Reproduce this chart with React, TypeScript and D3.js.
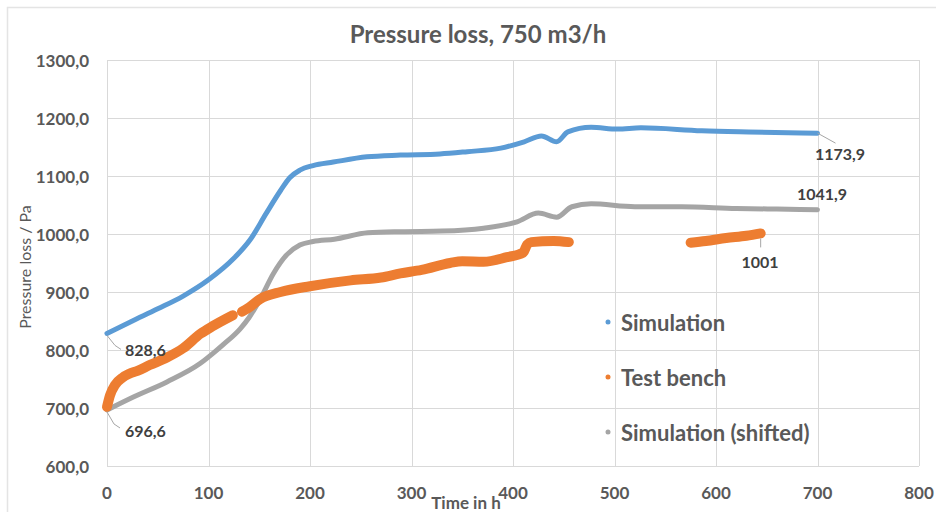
import React from "react";
import * as d3 from "d3";

const TITLE = "Pressure loss, 750 m3/h";
const X_TICKS = [0, 100, 200, 300, 400, 500, 600, 700, 800];
const Y_TICKS = [600, 700, 800, 900, 1000, 1100, 1200, 1300];

// Simulation (blue)
const simT = [0, 25, 50, 75, 100, 125, 141, 157, 171, 180, 190, 203, 223, 256, 289, 328, 355, 388, 411, 428, 443, 454, 477, 503, 526, 586, 632, 700];
const simV = [828.6, 850, 871, 893, 921, 958, 990, 1036, 1075, 1097, 1110, 1118, 1124, 1133, 1136, 1138, 1142, 1148, 1159, 1169, 1159, 1176, 1184, 1181, 1183, 1178, 1176, 1173.9];

// Simulation (shifted) (gray)
const shT = [0, 26, 59, 92, 105, 115, 131, 140, 151, 164, 177, 190, 203, 224, 257, 290, 330, 371, 404, 425, 443, 458, 477, 520, 566, 620, 660, 700];
const shV = [696.6, 719, 745, 777, 795, 810, 836, 856, 888, 932, 964, 981, 987, 991, 1002, 1004, 1005, 1010, 1021, 1036, 1029, 1047, 1052, 1047, 1047, 1044, 1043, 1041.9];

// Test bench (orange), three measured segments
const tb1T = [0, 3, 8, 15, 22, 30, 42, 59, 75, 92, 105, 124];
const tb1V = [702, 722, 740, 752, 759, 764, 774, 787, 803, 828, 842, 860];
const tb2T = [133, 138, 151, 171, 200, 240, 270, 289, 310, 338, 350, 371, 394, 410, 414, 418, 440, 455];
const tb2V = [866, 871, 888, 900, 910, 920, 925, 932, 938, 950, 953, 952, 960, 968, 982, 986, 988, 986];
const tb3T = [575, 590, 610, 630, 644];
const tb3V = [985, 988, 993, 997, 1001];

const LEGEND = ["Simulation", "Test bench", "Simulation (shifted)"];
const COLORS = ["#5B9BD5", "#ED7D31", "#A5A5A5"];

const FONT = "Lato, 'Open Sans', sans-serif";
const TXT = "#595959";

const zip = (t: number[], v: number[]) => t.map((d, i) => [d, v[i]] as [number, number]);

export default function App() {
  const x = d3.scaleLinear().domain([0, 800]).range([107, 919]);
  const y = d3.scaleLinear().domain([600, 1300]).range([466, 60]);
  const smooth = d3
    .line<[number, number]>()
    .x((d) => x(d[0]))
    .y((d) => y(d[1]))
    .curve(d3.curveMonotoneX);

  const sim = zip(simT, simV);
  const sh = zip(shT, shV);
  const tbs = [zip(tb1T, tb1V), zip(tb2T, tb2V), zip(tb3T, tb3V)];

  const simEnd = sim[sim.length - 1];
  const shEnd = sh[sh.length - 1];
  const tbEnd = tbs[2][tbs[2].length - 1];

  return (
    <svg width={936} height={512} style={{ position: "absolute", left: 0, top: 0, background: "#fff" }} fontFamily={FONT}>
      <rect x={7.5} y={7.5} width={940} height={520} fill="#fff" stroke="#E4E4E4" strokeWidth={1.5} />
      <text x={478} y={33} textAnchor="middle" dominantBaseline="central" fontSize={24} fontWeight={700} fill={TXT}>
        {TITLE}
      </text>
      {/* grid */}
      {Y_TICKS.map((t) => (
        <line key={"gy" + t} x1={x(0)} x2={x(800)} y1={Math.round(y(t)) + 0.5} y2={Math.round(y(t)) + 0.5} stroke="#D9D9D9" strokeWidth={1} />
      ))}
      {X_TICKS.map((t) => (
        <line key={"gx" + t} y1={y(600)} y2={y(1300)} x1={Math.round(x(t)) + 0.5} x2={Math.round(x(t)) + 0.5} stroke="#D9D9D9" strokeWidth={1} />
      ))}
      {Y_TICKS.map((t) => (
        <text key={"ty" + t} x={89} y={y(t)} textAnchor="end" dominantBaseline="central" fontSize={17} fontWeight={700} fill={TXT}>
          {d3.format(".1f")(t).replace(".", ",")}
        </text>
      ))}
      {X_TICKS.map((t) => (
        <text key={"tx" + t} x={x(t)} y={492} textAnchor="middle" dominantBaseline="central" fontSize={17} fontWeight={700} fill={TXT}>
          {t}
        </text>
      ))}
      <text x={466} y={502} textAnchor="middle" dominantBaseline="central" fontSize={17} fontWeight={700} fill={TXT}>
        Time in h
      </text>
      <text transform={`translate(24,267) rotate(-90)`} textAnchor="middle" dominantBaseline="central" fontSize={16} fill={TXT}>
        Pressure loss / Pa
      </text>
      {/* series */}
      <path d={smooth(sh) || ""} fill="none" stroke={COLORS[2]} strokeWidth={5} strokeLinejoin="round" strokeLinecap="round" />
      {tbs.map((s, i) => (
        <path key={"tb" + i} d={smooth(s) || ""} fill="none" stroke={COLORS[1]} strokeWidth={10} strokeLinejoin="round" strokeLinecap="round" />
      ))}
      <path d={smooth(sim) || ""} fill="none" stroke={COLORS[0]} strokeWidth={5} strokeLinejoin="round" strokeLinecap="round" />
      {/* data labels */}
      <polyline points={`${x(0)},${y(sim[0][1]) + 2} ${x(0) + 8},${y(sim[0][1]) + 12} ${x(0) + 14},${y(sim[0][1]) + 16}`} fill="none" stroke="#A6A6A6" strokeWidth={1} />
      <text x={125} y={349} dominantBaseline="central" fontSize={16} fontWeight={700} fill="#404040">
        {String(sim[0][1]).replace(".", ",")}
      </text>
      <polyline points={`${x(0)},${y(sh[0][1]) + 2} ${x(0) + 7},${y(sh[0][1]) + 14} ${x(0) + 13},${y(sh[0][1]) + 18}`} fill="none" stroke="#A6A6A6" strokeWidth={1} />
      <text x={125} y={430} dominantBaseline="central" fontSize={16} fontWeight={700} fill="#404040">
        {String(sh[0][1]).replace(".", ",")}
      </text>
      <line x1={x(simEnd[0])} y1={y(simEnd[1])} x2={x(simEnd[0]) + 18} y2={y(simEnd[1]) + 10} stroke="#A6A6A6" strokeWidth={1} />
      <text x={815} y={153} dominantBaseline="central" fontSize={16} fontWeight={700} fill="#404040">
        {String(simEnd[1]).replace(".", ",")}
      </text>
      <text x={797} y={193} dominantBaseline="central" fontSize={16} fontWeight={700} fill="#404040">
        {String(shEnd[1]).replace(".", ",")}
      </text>
      <line x1={x(tbEnd[0])} y1={y(tbEnd[1]) + 5} x2={x(tbEnd[0])} y2={y(tbEnd[1]) + 14} stroke="#A6A6A6" strokeWidth={1} />
      <text x={760} y={261} textAnchor="middle" dominantBaseline="central" fontSize={16} fontWeight={700} fill="#404040">
        {String(tbEnd[1])}
      </text>
      {/* legend */}
      {LEGEND.map((name, i) => (
        <g key={name} transform={`translate(0,${322 + i * 55})`}>
          <circle cx={608} cy={0} r={2.5} fill={COLORS[i]} />
          <text x={621} y={0} dominantBaseline="central" fontSize={22} fontWeight={700} fill={TXT}>
            {name}
          </text>
        </g>
      ))}
    </svg>
  );
}
